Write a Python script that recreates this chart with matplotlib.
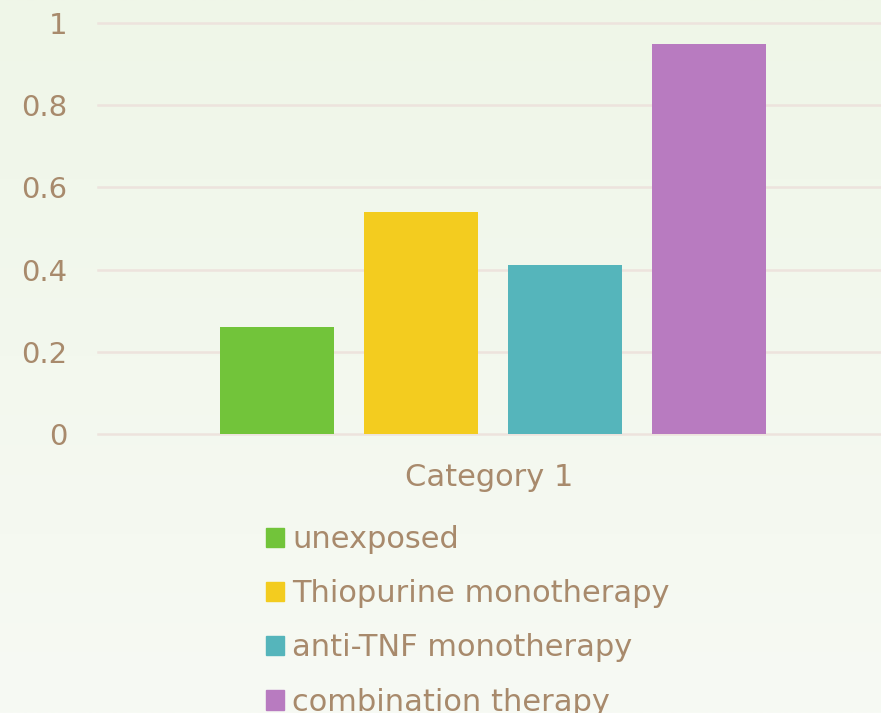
import matplotlib.pyplot as plt
import matplotlib.patches as mpatches
import numpy as np
from matplotlib.colors import LinearSegmentedColormap

series = ["unexposed", "Thiopurine monotherapy", "anti-TNF monotherapy", "combination therapy"]
values = [0.26, 0.54, 0.41, 0.95]
colors = ["#72c43a", "#f3cc1f", "#55b5bb", "#b87bc0"]
category = "Category 1"
yticks = [0, 0.2, 0.4, 0.6, 0.8, 1]
ytick_labels = ["0", "0.2", "0.4", "0.6", "0.8", "1"]

text_color = "#a88a6c"
grid_color = "#ede3dd"
plt.rcParams['font.family'] = ['DejaVu Sans']

W, H = 881, 713
fig = plt.figure(figsize=(W / 100, H / 100), dpi=100)

# background gradient
bg = fig.add_axes([0, 0, 1, 1], zorder=-10)
cmap = LinearSegmentedColormap.from_list("bg", ["#eff6e8", "#f7faf4"])
bg.imshow(np.linspace(0, 1, 256).reshape(-1, 1), aspect="auto", cmap=cmap,
          extent=[0, 1, 0, 1])
bg.axis("off")

ax = fig.add_axes([98 / W, 1 - 434 / H, 1 - 98 / W, (434 - 23) / H])
ax.set_facecolor("none")

width = 0.1456
pitch = 0.1837
offsets = (np.arange(len(series)) - (len(series) - 1) / 2) * pitch + 0.0045
for off, v, c, name in zip(offsets, values, colors, series):
    ax.bar(off, v, width=width, color=c, label=name, zorder=3)

ax.set_xlim(-0.5, 0.5)
ax.set_ylim(0, 1)
ax.set_yticks(yticks)
ax.set_yticklabels(ytick_labels)
ax.set_xticks([0])
ax.set_xticklabels([category])
ax.tick_params(axis="y", length=0, pad=22, labelsize=21, labelcolor=text_color)
ax.tick_params(axis="x", length=0, pad=21, labelsize=22, labelcolor=text_color)
for s in ax.spines.values():
    s.set_visible(False)
ax.grid(axis="y", color=grid_color, linewidth=1.8, zorder=0)
for gl in ax.get_ygridlines():
    gl.set_clip_on(False)

handles = [mpatches.Patch(color=c) for c in colors]
leg = fig.legend(handles, series, loc="upper left",
                 bbox_to_anchor=(266 / W, 1 - 525 / H),
                 frameon=False, fontsize=22, labelcolor=text_color,
                 handlelength=0.6, handleheight=0.6, handletextpad=0.26,
                 labelspacing=0.825, borderpad=0, borderaxespad=0)

fig.savefig("out.png", dpi=100)
